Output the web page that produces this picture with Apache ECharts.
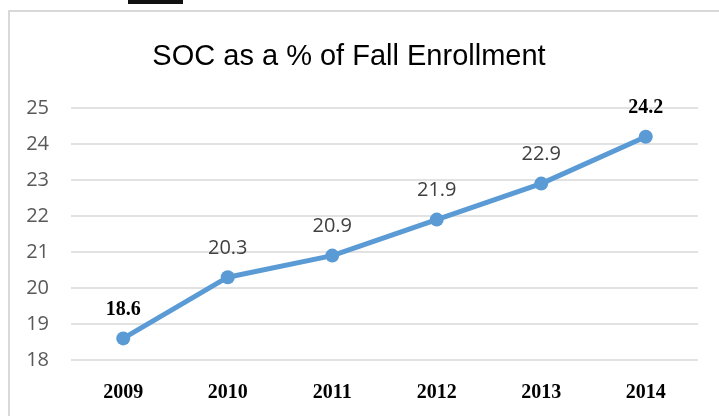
<!DOCTYPE html>
<html>
<head>
<meta charset="utf-8">
<script src="https://cdn.jsdelivr.net/npm/echarts@6/dist/echarts.min.js"></script>
<style>
html, body { margin: 0; padding: 0; background: #fff; }
#frame { position: absolute; left: 8px; top: 10px; width: 720px; height: 420px; border: 2px solid #d9d9d9; box-sizing: border-box; }
#bar { position: absolute; left: 128px; top: 0; width: 55px; height: 4px; background: #111; }
#chart { position: absolute; left: 0; top: 0; width: 719px; height: 416px; }
</style>
</head>
<body>
<div id="frame"></div>
<div id="bar"></div>
<div id="chart"></div>
<script>
var years = ['2009', '2010', '2011', '2012', '2013', '2014'];
var socPercent = [18.6, 20.3, 20.9, 21.9, 22.9, 24.2];
// first and last labels are bold serif in the original
var boldLabelIdx = [0, 5];

var myChart = echarts.init(document.getElementById('chart'));

var points = socPercent.map(function (v, i) {
    var item = { value: v };
    if (boldLabelIdx.indexOf(i) >= 0) {
        item.label = {
            fontFamily: 'Liberation Serif',
            fontWeight: 'bold',
            fontSize: 20,
            color: '#000'
        };
    }
    return item;
});

myChart.setOption({
    animation: false,
    title: {
        text: 'SOC as a % of Fall Enrollment',
        left: 344,
        textAlign: 'center',
        top: 37,
        textStyle: {
            fontFamily: 'Liberation Sans',
            fontWeight: 'normal',
            fontSize: 29,
            color: '#000'
        }
    },
    grid: { left: 71, right: 21, top: 108, bottom: 56 },
    xAxis: {
        type: 'category',
        data: years,
        axisLine: { show: false },
        axisTick: { show: false },
        axisLabel: {
            margin: 23,
            fontFamily: 'Liberation Serif',
            fontWeight: 'bold',
            fontSize: 20,
            color: '#000'
        }
    },
    yAxis: {
        type: 'value',
        min: 18,
        max: 25,
        interval: 1,
        axisLine: { show: false },
        axisTick: { show: false },
        splitLine: { lineStyle: { color: '#d9d9d9', width: 1.5 } },
        axisLabel: {
            margin: 22,
            fontFamily: 'Open Sans',
            fontSize: 20,
            color: '#595959'
        }
    },
    series: [{
        name: 'SOC %',
        type: 'line',
        data: points,
        symbol: 'circle',
        symbolSize: 14,
        lineStyle: { color: '#5b9bd5', width: 5 },
        itemStyle: { color: '#5b9bd5' },
        label: {
            show: true,
            position: 'top',
            distance: 12,
            fontFamily: 'Open Sans',
            fontSize: 20,
            color: '#404040'
        }
    }]
});
</script>
</body>
</html>
